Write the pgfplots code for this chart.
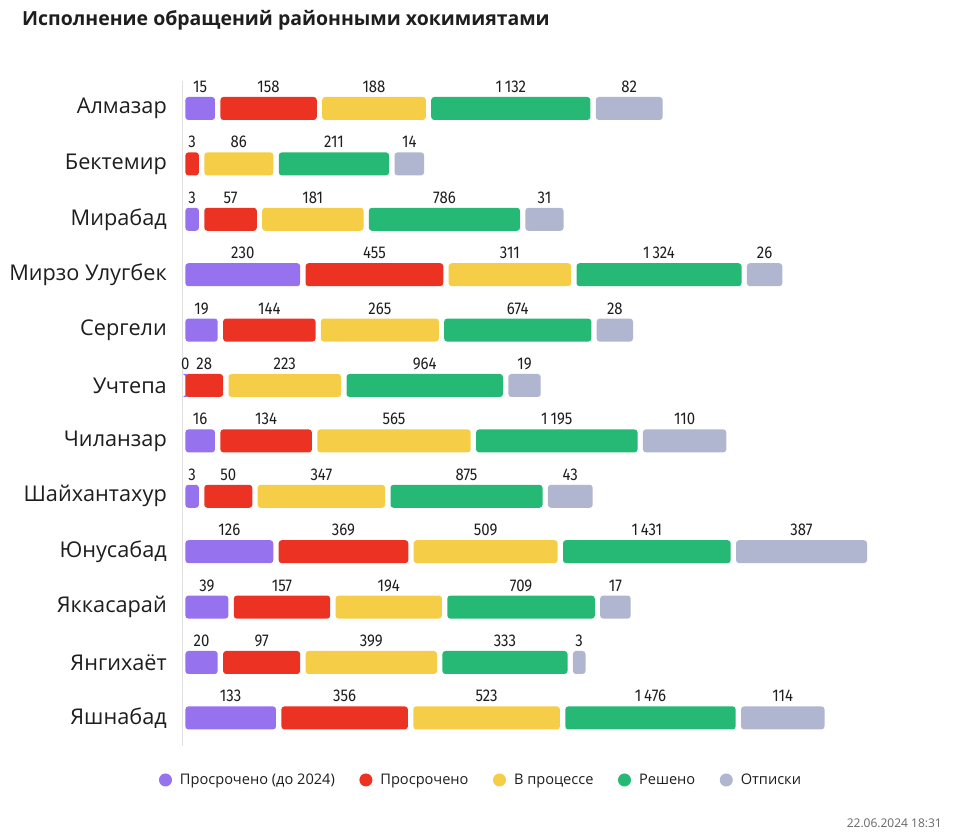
\documentclass[border=0pt]{standalone}
\usepackage{pgfplots}
\pgfplotsset{compat=1.18}
\usepackage{pgfplotstable}
\usepackage{fontspec}
\setmainfont{Open Sans}
\newfontfamily\numfont[FakeStretch=0.88]{Fira Sans}
\definecolor{cPurple}{RGB}{150,114,239}
\definecolor{cRed}{RGB}{236,51,35}
\definecolor{cYellow}{RGB}{245,205,71}
\definecolor{cGreen}{RGB}{38,185,118}
\definecolor{cGrey}{RGB}{177,182,208}
\definecolor{cText}{RGB}{30,30,30}
% l* = drawn segment length (px; the chart uses a non-linear scale)
% v* = value shown on the segment (-1 = no segment, no label)
\pgfplotstableread{
idx l1 g1 l2 l3 l4 l5 v1 v2 v3 v4 v5
0 29.6 5.4 96.4 103.6 159.2 66.8 15 158 188 1132 82
1 0 0 13.5 69.1 110.3 29.6 -1 3 86 211 14
2 13.5 5.4 52.5 101.3 151.1 38.1 3 57 181 786 31
3 114.8 5.4 137.7 122.4 165.0 35.4 230 455 311 1324 26
4 32.3 5.4 92.4 117.9 147.1 36.3 19 144 265 674 28
5 0.01 0 37.7 112.6 156.5 32.3 0 28 223 964 19
6 29.6 5.4 91.5 153.4 161.4 83.4 16 134 565 1195 110
7 13.5 5.4 48.0 127.4 152.0 44.8 3 50 347 875 43
8 87.9 5.4 129.6 143.9 167.7 130.9 126 369 509 1431 387
9 43.0 5.4 96.4 106.3 147.5 30.5 39 157 194 709 17
10 32.3 5.4 77.1 131.4 125.1 12.6 20 97 399 333 3
11 90.6 5.4 126.5 146.6 170.4 83.4 133 356 523 1476 114
}\data
\pgfplotsset{
  seg/.style 2 args={fill=#1, draw=none, rounded corners=3pt,
    legend image code/.code={\fill[#1] (0pt,0pt) circle (6.5pt);},
    visualization depends on={\thisrow{#2} \as \rawv},
    nodes near coords={\ifdim\rawv pt<0pt\else\pgfmathprintnumber{\rawv}\fi},
    nodes near coords style={anchor=base, yshift=16pt, inner sep=0pt,
      font=\numfont\fontsize{17}{19}\selectfont, text=cText}},
  gap/.style={fill=none, draw=none, forget plot},
}
\begin{document}
\begin{tikzpicture}
\useasboundingbox (0pt,0pt) rectangle (954pt,834pt);
\fill[white] (0pt,0pt) rectangle (954pt,834pt);
\node[anchor=west, inner sep=0pt, font=\fontsize{19.45}{22}\selectfont\bfseries, text=cText] at (22pt,814pt) {Исполнение обращений районными хокимиятами};
\node[anchor=east, inner sep=0pt, font=\fontsize{12}{14}\selectfont, text=black!60] at (942pt,11pt) {22.06.2024 18:31};
\begin{axis}[
  at={(183pt,420.8pt)}, anchor=west,
  scale only axis, width=702.4pt, height=664.8pt,
  xmin=-2.4, xmax=700, ymin=-0.5, ymax=11.5, y dir=reverse,
  axis x line=none,
  axis y line*=left,
  y axis line style={-, draw=black!12, line width=1pt},
  ytick={0,...,11},
  yticklabels={Алмазар, Бектемир, Мирабад, Мирзо Улугбек, Сергели, Учтепа, Чиланзар, Шайхантахур, Юнусабад, Яккасарай, Янгихаёт, Яшнабад},
  major tick length=0pt,
  yticklabel style={font=\fontsize{21.7}{24}\selectfont, text=cText, inner sep=0pt, anchor=east, xshift=-16pt},
  xbar stacked, bar width=23pt,
  /pgf/number format/.cd, fixed, precision=0, 1000 sep={\,}, assume math mode=true, /pgfplots/.cd,
  legend columns=5,
  legend cell align=left,
  legend style={draw=none, fill=none, at={(0.4243,-0.0517)}, anchor=center,
    font=\fontsize{14.6}{16}\selectfont, text=cText,
    /tikz/every even column/.append style={column sep=22.5pt},
    /tikz/every odd column/.append style={column sep=6pt}},
]
\addplot[seg={cPurple}{v1}] table[x=l1, y=idx] {\data};
\addlegendentry{Просрочено (до 2024)}
\addplot[gap] table[x=g1, y=idx] {\data};
\addplot[seg={cRed}{v2}] table[x=l2, y=idx] {\data};
\addlegendentry{Просрочено}
\addplot[gap] table[x expr=5.4, y=idx] {\data};
\addplot[seg={cYellow}{v3}] table[x=l3, y=idx] {\data};
\addlegendentry{В процессе}
\addplot[gap] table[x expr=5.4, y=idx] {\data};
\addplot[seg={cGreen}{v4}] table[x=l4, y=idx] {\data};
\addlegendentry{Решено}
\addplot[gap] table[x expr=5.4, y=idx] {\data};
\addplot[seg={cGrey}{v5}] table[x=l5, y=idx] {\data};
\addlegendentry{Отписки}
\end{axis}
\end{tikzpicture}
\end{document}
